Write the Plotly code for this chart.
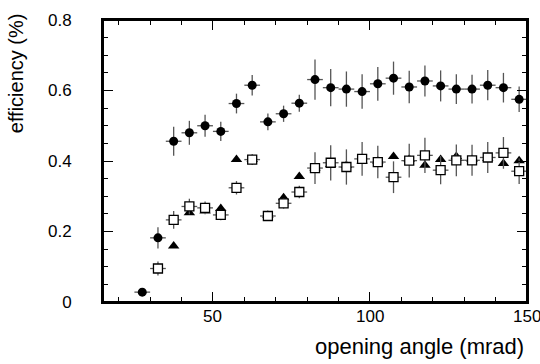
import plotly.graph_objects as go

# bin centres (mrad), half bin width 2.5
x_circ = [27.5, 32.5, 37.5, 42.5, 47.5, 52.5, 57.5, 62.5, 67.5, 72.5, 77.5, 82.5, 87.5,
          92.5, 97.5, 102.5, 107.5, 112.5, 117.5, 122.5, 127.5, 132.5, 137.5, 142.5, 147.5]
y_circ = [0.028, 0.182, 0.456, 0.480, 0.500, 0.484, 0.563, 0.615, 0.511, 0.534, 0.564, 0.631, 0.608,
          0.604, 0.597, 0.619, 0.635, 0.610, 0.627, 0.613, 0.604, 0.604, 0.615, 0.608, 0.575]
e_circ = [0.010, 0.030, 0.041, 0.034, 0.031, 0.027, 0.028, 0.029, 0.024, 0.023, 0.024, 0.057, 0.053,
          0.050, 0.049, 0.048, 0.047, 0.046, 0.044, 0.044, 0.042, 0.041, 0.043, 0.042, 0.036]

x_sq = [32.5, 37.5, 42.5, 47.5, 52.5, 57.5, 62.5, 67.5, 72.5, 77.5, 82.5, 87.5,
        92.5, 97.5, 102.5, 107.5, 112.5, 117.5, 122.5, 127.5, 132.5, 137.5, 142.5, 147.5]
y_sq = [0.095, 0.233, 0.271, 0.267, 0.247, 0.324, 0.404, 0.244, 0.280, 0.312, 0.380, 0.395,
        0.383, 0.406, 0.397, 0.354, 0.401, 0.416, 0.374, 0.402, 0.402, 0.410, 0.423, 0.371]
e_sq = [0.020, 0.025, 0.022, 0.018, 0.015, 0.019, 0.015, 0.010, 0.015, 0.018, 0.045, 0.050,
        0.050, 0.048, 0.046, 0.045, 0.048, 0.050, 0.040, 0.045, 0.044, 0.044, 0.045, 0.036]

x_tri = [37.5, 42.5, 47.5, 52.5, 57.5, 62.5, 67.5, 72.5, 77.5, 82.5, 87.5,
         92.5, 97.5, 102.5, 107.5, 112.5, 117.5, 122.5, 127.5, 132.5, 137.5, 142.5, 147.5]
y_tri = [0.159, 0.253, 0.258, 0.265, 0.404, 0.404, 0.246, 0.296, 0.356, 0.380, 0.390,
         0.387, 0.400, 0.400, 0.413, 0.405, 0.388, 0.404, 0.413, 0.404, 0.408, 0.393, 0.401]

x_ticks = [50, 100, 150]
x_ticklabels = ["50", "100", "150"]
x_range = [15, 150]
y_range = [0, 0.8]
x_major, x_minor_step = 50, 10
y_major, y_minor_step = 0.2, 0.05

half_bin = 2.5
err_col = "#555555"

fig = go.Figure()
fig.add_trace(go.Scatter(
    x=x_circ, y=y_circ, mode="markers",
    marker=dict(symbol="circle", size=9, color="black"),
    error_x=dict(type="constant", value=half_bin, width=0, color=err_col, thickness=1.3),
    error_y=dict(type="data", array=e_circ, width=0, color=err_col, thickness=1.3),
))
fig.add_trace(go.Scatter(
    x=x_tri, y=y_tri, mode="markers",
    marker=dict(symbol="triangle-up", size=10, color="black"),
))
fig.add_trace(go.Scatter(
    x=x_sq, y=y_sq, mode="markers",
    marker=dict(symbol="square", size=9, color="white", line=dict(width=1.3, color="black")),
    error_x=dict(type="constant", value=half_bin, width=0, color=err_col, thickness=1.3),
    error_y=dict(type="data", array=e_sq, width=0, color=err_col, thickness=1.3),
))
# invisible trace so the top / right frame axes are drawn
fig.add_trace(go.Scatter(
    x=x_circ, y=y_circ, mode="markers", xaxis="x2", yaxis="y2",
    marker=dict(opacity=0), hoverinfo="skip",
))

font_family = "Liberation Sans, Arial, sans-serif"
axis_common = dict(
    showline=True, linecolor="black", linewidth=2,
    ticks="inside", ticklen=10, tickwidth=1.2, tickcolor="black",
    showgrid=False, zeroline=False,
    tickfont=dict(family=font_family, size=17, color="black"),
)
x_common = dict(range=x_range, tickmode="linear", tick0=0, dtick=x_major,
                minor=dict(tickmode="linear", tick0=0, dtick=x_minor_step, ticks="inside",
                           ticklen=5, tickcolor="black", tickwidth=1.2, showgrid=False))
y_common = dict(range=y_range, tickmode="linear", tick0=0, dtick=y_major,
                minor=dict(tickmode="linear", tick0=0, dtick=y_minor_step, ticks="inside",
                           ticklen=5, tickcolor="black", tickwidth=1.2, showgrid=False))

annotations = [
    dict(text=lab, xref="paper", yref="paper", x=(v - x_range[0]) / (x_range[1] - x_range[0]),
         y=-0.053, xanchor="center", yanchor="middle",
         showarrow=False, font=dict(family=font_family, size=17, color="black"))
    for v, lab in zip(x_ticks, x_ticklabels)
]
annotations += [
    dict(text="opening angle (mrad)", xref="paper", yref="paper", x=0.997, y=-0.157,
         xanchor="right", yanchor="middle", showarrow=False,
         font=dict(family=font_family, size=22, color="black")),
    dict(text="efficiency (%)", xref="paper", yref="paper", x=-0.206, y=1.03,
         xanchor="center", yanchor="top", textangle=-90, showarrow=False,
         font=dict(family=font_family, size=20, color="black")),
]

fig.update_layout(
    width=540, height=364,
    margin=dict(l=103, r=13, t=11, b=62),
    paper_bgcolor="white", plot_bgcolor="white",
    showlegend=False,
    xaxis=dict(showticklabels=False, **x_common, **axis_common),
    yaxis=dict(ticklabelstandoff=26, **y_common, **axis_common),
    xaxis2=dict(showticklabels=False, overlaying="x", side="top", anchor="y",
                **x_common, **axis_common),
    yaxis2=dict(showticklabels=False, overlaying="y", side="right", anchor="x",
                **y_common, **axis_common),
    annotations=annotations,
    shapes=[dict(type="rect", xref="paper", yref="paper", x0=0, x1=1, y0=0, y1=1,
                 line=dict(color="black", width=2), fillcolor="rgba(0,0,0,0)", layer="above")],
)
fig.write_html(
    "out.html",
    config={"displayModeBar": False},
    post_script="document.body.style.margin='0';document.body.style.overflow='hidden';",
)
